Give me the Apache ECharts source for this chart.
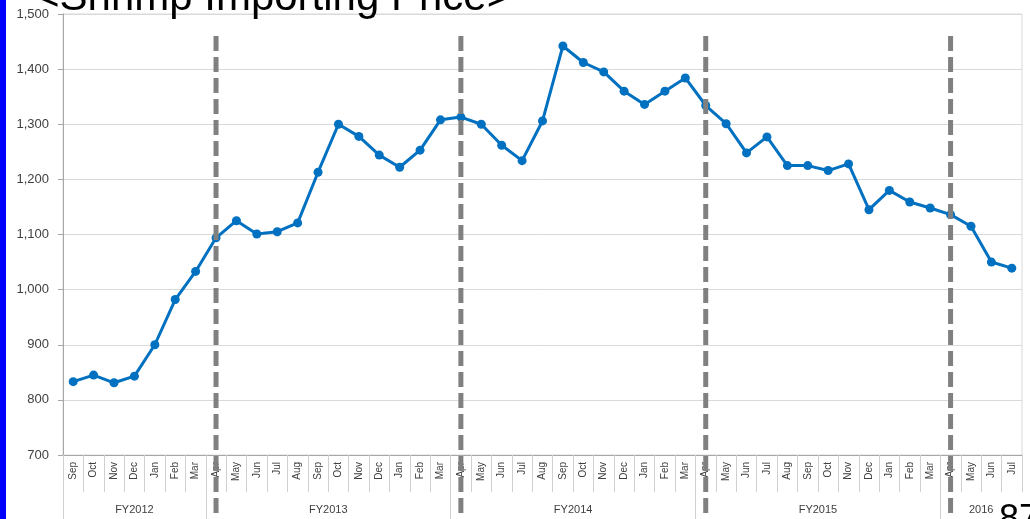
<!DOCTYPE html>
<html>
<head>
<meta charset="utf-8">
<title>Shrimp Importing Price</title>
<script src="https://cdn.jsdelivr.net/npm/echarts@6/dist/echarts.min.js"></script>
<style>
  html, body { margin: 0; padding: 0; background: #fff; }
  #chart { width: 1030px; height: 519px; }
</style>
</head>
<body>
<div id="chart"></div>
<script>
// 月份（Sep 2011 - Jul 2016）
const months = [
  'Sep', 'Oct', 'Nov', 'Dec', 'Jan', 'Feb', 'Mar',
  'Apr', 'May', 'Jun', 'Jul', 'Aug', 'Sep', 'Oct', 'Nov', 'Dec', 'Jan', 'Feb', 'Mar',
  'Apr', 'May', 'Jun', 'Jul', 'Aug', 'Sep', 'Oct', 'Nov', 'Dec', 'Jan', 'Feb', 'Mar',
  'Apr', 'May', 'Jun', 'Jul', 'Aug', 'Sep', 'Oct', 'Nov', 'Dec', 'Jan', 'Feb', 'Mar',
  'Apr', 'May', 'Jun', 'Jul'
]

// 价格
const prices = [
  833, 845, 831, 843, 900, 982, 1033,
  1094, 1125, 1101, 1105, 1121, 1213, 1300, 1278, 1244, 1222, 1253, 1308,
  1313, 1300, 1262, 1234, 1306, 1442, 1412, 1395, 1360, 1336, 1360, 1384,
  1334, 1301, 1248, 1277, 1225, 1225, 1216, 1228, 1145, 1180, 1159, 1148,
  1136, 1115, 1050, 1039
]

// 年度分组
const groupNames = ['FY2012', 'FY2013', 'FY2014', 'FY2015', '2016']
const groupSizes = [7, 12, 12, 12, 4]

// y轴刻度
const yTicks = [700, 800, 900, 1000, 1100, 1200, 1300, 1400, 1500]

// 分组边界 / 中心
const groupStarts = []
const groupCenters = []
let acc = 0
groupSizes.forEach(n => {
  groupStarts.push(acc)
  groupCenters.push(acc + n / 2)
  acc += n
})

// 虚线位置：每个年度的第一个月 (Apr)
const DIVIDER_TOP = 1460
const dividers = groupStarts.slice(1).map(i => [i, DIVIDER_TOP])

const FONT = '"Liberation Sans", Arial, sans-serif'
const chart = echarts.init(document.getElementById('chart'))

const option = {
  animation: false,
  textStyle: { fontFamily: FONT },
  grid: {
    left: 63, right: 8, top: 14, bottom: 64,
    show: true,
    borderColor: '#d9d9d9',
    borderWidth: 1
  },
  xAxis: [
    {
      type: 'category',
      data: months,
      boundaryGap: true,
      axisLine: { lineStyle: { color: '#a6a6a6', width: 1 } },
      axisTick: { show: true, interval: 0, length: 37, lineStyle: { color: '#d0d0d0' } },
      axisLabel: {
        interval: 0, rotate: 90, margin: 7,
        fontSize: 10, color: '#404040', fontFamily: FONT
      },
      splitLine: { show: false }
    },
    {
      type: 'value',
      position: 'bottom',
      min: 0,
      max: months.length,
      axisLine: { show: false },
      splitLine: { show: false },
      axisTick: {
        show: true,
        customValues: groupStarts,
        length: 64,
        lineStyle: { color: '#d0d0d0' }
      },
      axisLabel: {
        customValues: groupCenters,
        margin: 49,
        fontSize: 11,
        color: '#404040',
        fontFamily: FONT,
        formatter: v => {
          const i = groupCenters.findIndex(c => Math.abs(c - v) < 1e-6)
          return i >= 0 ? groupNames[i] : ''
        }
      }
    }
  ],
  yAxis: {
    type: 'value',
    min: yTicks[0],
    max: yTicks[yTicks.length - 1],
    interval: 100,
    axisLine: { show: true, lineStyle: { color: '#a6a6a6' } },
    axisTick: { show: true, length: 5, lineStyle: { color: '#a6a6a6' } },
    axisLabel: {
      margin: 14, fontSize: 13, color: '#404040', fontFamily: FONT,
      formatter: v => v.toLocaleString('en-US')
    },
    splitLine: { lineStyle: { color: '#d9d9d9', width: 1 } }
  },
  series: [
    {
      name: 'Price',
      type: 'line',
      data: prices,
      symbol: 'circle',
      symbolSize: 9,
      z: 2,
      itemStyle: { color: '#0070c0' },
      lineStyle: { color: '#0070c0', width: 3 }
    },
    {
      // 年度分隔虚线
      type: 'custom',
      data: dividers,
      clip: false,
      z: 3,
      silent: true,
      encode: { x: 0, y: 1 },
      renderItem: (params, api) => {
        const p = api.coord([api.value(0), api.value(1)])
        return {
          type: 'line',
          shape: { x1: p[0], y1: p[1], x2: p[0], y2: api.getHeight() },
          style: { stroke: '#808080', lineWidth: 5, lineDash: [15, 6] }
        }
      }
    }
  ],
  graphic: [
    {
      type: 'rect',
      left: 0, top: 0,
      shape: { width: 6, height: 519 },
      style: { fill: '#0000ff' }
    },
    {
      type: 'text',
      x: 35, y: -2,
      z: 10,
      style: {
        text: '<Shrimp Importing Price>',
        font: '42px "Liberation Sans", Arial, sans-serif',
        fill: '#000',
        verticalAlign: 'middle'
      }
    },
    {
      type: 'text',
      x: 999, y: 502,
      style: {
        text: '87',
        font: '36px "Liberation Sans", Arial, sans-serif',
        fill: '#000',
        verticalAlign: 'top'
      }
    }
  ]
}

chart.setOption(option)
</script>
</body>
</html>
